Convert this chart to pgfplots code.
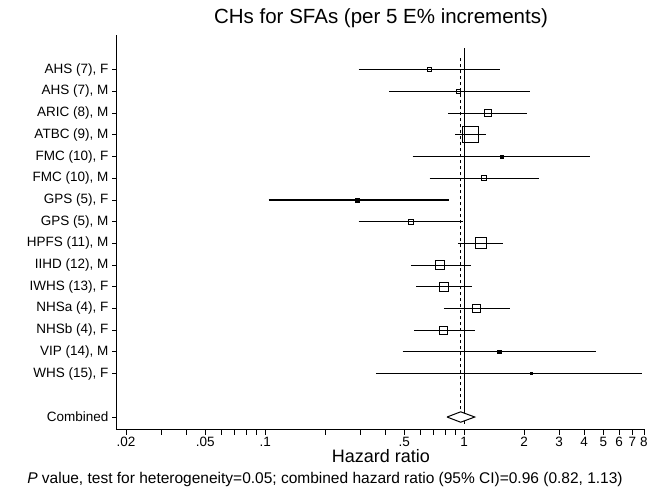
\documentclass[border=0pt]{standalone}
\usepackage{pgfplots}
\pgfplotsset{compat=1.18}
\usepackage{fontspec}
\setmainfont{Liberation Sans}
\begin{document}
\begin{tikzpicture}[x=1pt,y=1pt]
\useasboundingbox (-117,-58.4) rectangle (533,429.6);
\begin{axis}[at={(0,0)},anchor=south west,scale only axis,width=528pt,height=394.6pt,
 xmode=log, xmin=0.018, xmax=8.1, ymin=-0.58, ymax=17.6,
 axis lines=left, axis line style={-, line width=1pt},
 /pgf/number format/assume math mode=true,
 tick style={black, line width=0.8pt}, tick align=outside, major tick length=5pt,
 xtick={0.02,0.03,0.04,0.05,0.06,0.07,0.08,0.09,0.1,0.2,0.3,0.4,0.5,0.6,0.7,0.8,0.9,1,2,3,4,5,6,7,8},
 xticklabels={.02,,,.05,,,,,.1,,,,.5,,,,,1,2,3,4,5,6,7,8},
 ytick={0,2,3,4,5,6,7,8,9,10,11,12,13,14,15,16},
 yticklabels={Combined,{WHS (15), F},{VIP (14), M},{NHSb (4), F},{NHSa (4), F},{IWHS (13), F},{IIHD (12), M},{HPFS (11), M},{GPS (5), M},{GPS (5), F},{FMC (10), M},{FMC (10), F},{ATBC (9), M},{ARIC (8), M},{AHS (7), M},{AHS (7), F}},
 tick label style={font=\fontsize{13.5}{15}\selectfont},
 xticklabel style={yshift=1pt},
 xlabel={Hazard ratio}, xlabel style={font=\fontsize{18}{20}\selectfont, yshift=4pt},
 title={CHs for SFAs (per 5 E\% increments)}, title style={font=\fontsize{20.5}{23}\selectfont, yshift=-2pt},
 clip=false]
% CI lines
\addplot[black, line width=1.1pt] coordinates {(0.295,16) (1.51,16)};
\addplot[black, line width=1.1pt] coordinates {(0.42,15) (2.15,15)};
\addplot[black, line width=1.1pt] coordinates {(0.83,14) (2.06,14)};
\addplot[black, line width=1.1pt] coordinates {(0.90,13) (1.28,13)};
\addplot[black, line width=1.1pt] coordinates {(0.55,12) (4.3,12)};
\addplot[black, line width=1.1pt] coordinates {(0.67,11) (2.37,11)};
\addplot[black, line width=1.1pt] coordinates {(0.104,10) (0.84,10)};
\addplot[black, line width=1.1pt] coordinates {(0.295,9) (0.99,9)};
\addplot[black, line width=1.1pt] coordinates {(0.93,8) (1.57,8)};
\addplot[black, line width=1.1pt] coordinates {(0.54,7) (1.08,7)};
\addplot[black, line width=1.1pt] coordinates {(0.575,6) (1.09,6)};
\addplot[black, line width=1.1pt] coordinates {(0.79,5) (1.70,5)};
\addplot[black, line width=1.1pt] coordinates {(0.56,4) (1.13,4)};
\addplot[black, line width=1.1pt] coordinates {(0.49,3) (4.57,3)};
\addplot[black, line width=1.1pt] coordinates {(0.36,2) (7.8,2)};
% reference lines
\addplot[black, line width=1.1pt] coordinates {(1,-0.3) (1,17)};
\addplot[black, line width=1.1pt, dashed] coordinates {(0.96,-0.2) (0.96,16.6)};
% point estimates
\addplot[only marks, mark=square, mark size=2pt, mark options={fill=white, line width=1pt}] coordinates {(0.67,16) (0.94,15)};
\addplot[only marks, mark=square, mark size=3.5pt, mark options={fill=white, line width=1pt}] coordinates {(1.31,14)};
\addplot[only marks, mark=square, mark size=8pt, mark options={fill=white, line width=1pt}] coordinates {(1.08,13)};
\addplot[only marks, mark=square*, mark size=1.8pt, mark options={fill=black}] coordinates {(1.54,12) (0.29,10) (1.50,3)};
\addplot[only marks, mark=square, mark size=2.5pt, mark options={fill=white, line width=1pt}] coordinates {(1.26,11) (0.54,9)};
\addplot[only marks, mark=square, mark size=5.5pt, mark options={fill=white, line width=1pt}] coordinates {(1.21,8)};
\addplot[only marks, mark=square, mark size=4.5pt, mark options={fill=white, line width=1pt}] coordinates {(0.76,7) (0.79,6)};
\addplot[only marks, mark=square, mark size=4pt, mark options={fill=white, line width=1pt}] coordinates {(1.15,5) (0.79,4)};
\addplot[only marks, mark=square*, mark size=1pt, mark options={fill=black}] coordinates {(2.16,2)};
% combined diamond
\addplot[black, fill=white, line width=1pt] coordinates {(0.82,0) (0.96,0.24) (1.13,0) (0.96,-0.24) (0.82,0)};
\end{axis}
\node[anchor=base, font=\fontsize{15.5}{17}\selectfont] at (208,-54) {\textit{P} value, test for heterogeneity=0.05; combined hazard ratio (95\% CI)=0.96 (0.82, 1.13)};
\end{tikzpicture}
\end{document}
